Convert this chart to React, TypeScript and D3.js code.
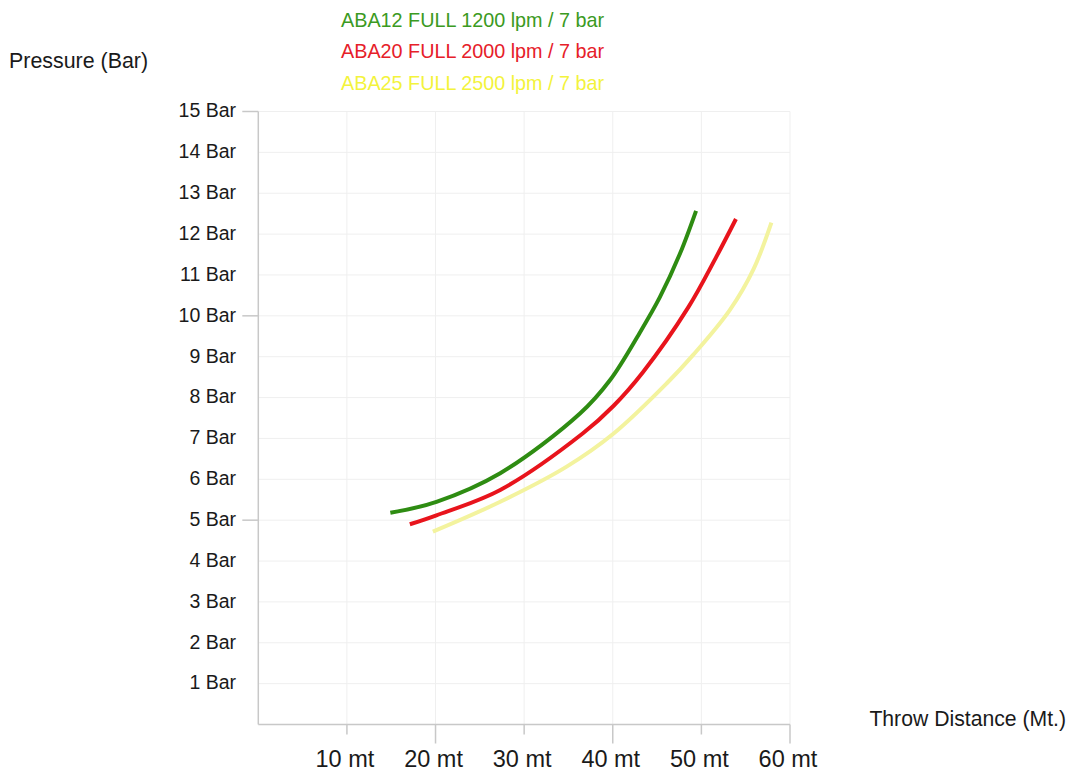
import * as React from "react"
import * as d3 from "d3"

const distanceTicks = [10, 20, 30, 40, 50, 60]
const pressureTicks = d3.range(1, 16)
const majorPressure = [5, 10, 15]
const majorDistance = [20, 40, 60]

const seriesNames = [
  "ABA12 FULL 1200 lpm / 7 bar",
  "ABA20 FULL 2000 lpm / 7 bar",
  "ABA25 FULL 2500 lpm / 7 bar",
]
const lineColors = ["#2e8c12", "#e8141c", "#f3f39e"]
const legendColors = ["#3b9a22", "#e62029", "#f3f33c"]

const aba12Distance = [14.9, 20.1, 27.3, 36.3, 39.7, 43.0, 45.3, 47.6, 49.4]
const aba12Pressure = [5.18, 5.45, 6.15, 7.61, 8.43, 9.57, 10.45, 11.53, 12.57]
const aba20Distance = [17.1, 20.1, 27.3, 36.6, 40.1, 43.4, 48.5, 51.7, 53.9]
const aba20Pressure = [4.9, 5.12, 5.74, 7.12, 7.8, 8.62, 10.2, 11.45, 12.37]
const aba25Distance = [19.7, 27.3, 34.8, 40.1, 46.1, 49.1, 53.2, 55.9, 57.9]
const aba25Pressure = [4.72, 5.45, 6.31, 7.12, 8.35, 9.05, 10.14, 11.15, 12.28]

const FONT = "'Liberation Sans', Arial, sans-serif"

function render(svgRef: React.RefObject<SVGSVGElement>) {
  const svg = d3.select(svgRef.current)
  svg.selectAll("*").remove()

  const x = d3.scaleLinear().domain([0, 60]).range([258.3, 790])
  const y = d3.scaleLinear().domain([0, 15]).range([724.5, 111.5])

  const series = [
    d3.zip(aba12Distance, aba12Pressure),
    d3.zip(aba20Distance, aba20Pressure),
    d3.zip(aba25Distance, aba25Pressure),
  ]

  svg
    .append("rect")
    .attr("width", 1074)
    .attr("height", 771)
    .attr("fill", "#ffffff")

  // grid
  svg
    .append("g")
    .selectAll("line")
    .data(pressureTicks)
    .join("line")
    .attr("x1", x(0))
    .attr("x2", x(60))
    .attr("y1", (d) => y(d))
    .attr("y2", (d) => y(d))
    .attr("stroke", "#efefef")
    .attr("stroke-width", 1)

  svg
    .append("g")
    .selectAll("line")
    .data(distanceTicks)
    .join("line")
    .attr("x1", (d) => x(d))
    .attr("x2", (d) => x(d))
    .attr("y1", y(15))
    .attr("y2", y(0))
    .attr("stroke", "#efefef")
    .attr("stroke-width", 1)

  // axes
  const axisColor = "#c8c8c8"
  svg
    .append("line")
    .attr("x1", x(0))
    .attr("x2", x(0))
    .attr("y1", y(15))
    .attr("y2", y(0))
    .attr("stroke", axisColor)
    .attr("stroke-width", 1.5)
  svg
    .append("line")
    .attr("x1", x(0))
    .attr("x2", x(60))
    .attr("y1", y(0))
    .attr("y2", y(0))
    .attr("stroke", axisColor)
    .attr("stroke-width", 1.5)

  svg
    .append("g")
    .selectAll("line")
    .data(majorPressure)
    .join("line")
    .attr("x1", x(0) - 16)
    .attr("x2", x(0))
    .attr("y1", (d) => y(d))
    .attr("y2", (d) => y(d))
    .attr("stroke", axisColor)
    .attr("stroke-width", 1.5)

  svg
    .append("g")
    .selectAll("line")
    .data(distanceTicks)
    .join("line")
    .attr("x1", (d) => x(d))
    .attr("x2", (d) => x(d))
    .attr("y1", y(0))
    .attr("y2", (d) => y(0) + (majorDistance.includes(d) ? 19 : 10))
    .attr("stroke", axisColor)
    .attr("stroke-width", 1.5)

  svg
    .append("g")
    .selectAll("text")
    .data(pressureTicks)
    .join("text")
    .attr("x", 236)
    .attr("y", (d) => y(d) - 1)
    .attr("dy", "0.35em")
    .attr("text-anchor", "end")
    .attr("font-family", FONT)
    .attr("font-size", 19.5)
    .attr("fill", "#1a1a1a")
    .text((d) => `${d} Bar`)

  svg
    .append("g")
    .selectAll("text")
    .data(distanceTicks)
    .join("text")
    .attr("x", (d) => x(d) - 2)
    .attr("y", 767)
    .attr("text-anchor", "middle")
    .attr("font-family", FONT)
    .attr("font-size", 23.5)
    .attr("fill", "#1a1a1a")
    .text((d) => `${d} mt`)

  // titles
  svg
    .append("text")
    .attr("x", 9)
    .attr("y", 68)
    .attr("font-family", FONT)
    .attr("font-size", 21.4)
    .attr("fill", "#1a1a1a")
    .text("Pressure (Bar)")

  svg
    .append("text")
    .attr("x", 1066)
    .attr("y", 726)
    .attr("text-anchor", "end")
    .attr("font-family", FONT)
    .attr("font-size", 21.2)
    .attr("fill", "#1a1a1a")
    .text("Throw Distance (Mt.)")

  // curves
  const line = d3
    .line<[number, number]>()
    .x((d) => x(d[0]))
    .y((d) => y(d[1]))
    .curve(d3.curveCatmullRom.alpha(0.5))

  svg
    .append("g")
    .selectAll("path")
    .data(series)
    .join("path")
    .attr("d", (d) => line(d as [number, number][]))
    .attr("fill", "none")
    .attr("stroke", (_d, i) => lineColors[i])
    .attr("stroke-width", 4)

  // legend
  svg
    .append("g")
    .selectAll("text")
    .data(seriesNames)
    .join("text")
    .attr("x", 341)
    .attr("y", (_d, i) => 26.5 + i * 31.5)
    .attr("font-family", FONT)
    .attr("font-size", 19.8)
    .attr("fill", (_d, i) => legendColors[i])
    .text((d) => d)
}

export default function App(): React.JSX.Element {
  const svg = React.useRef<SVGSVGElement>(null)

  React.useEffect(() => {
    render(svg)
  }, [])

  return (
    <svg
      ref={svg}
      width={1074}
      height={771}
      style={{ position: "absolute", left: 0, top: 0 }}
    />
  )
}
